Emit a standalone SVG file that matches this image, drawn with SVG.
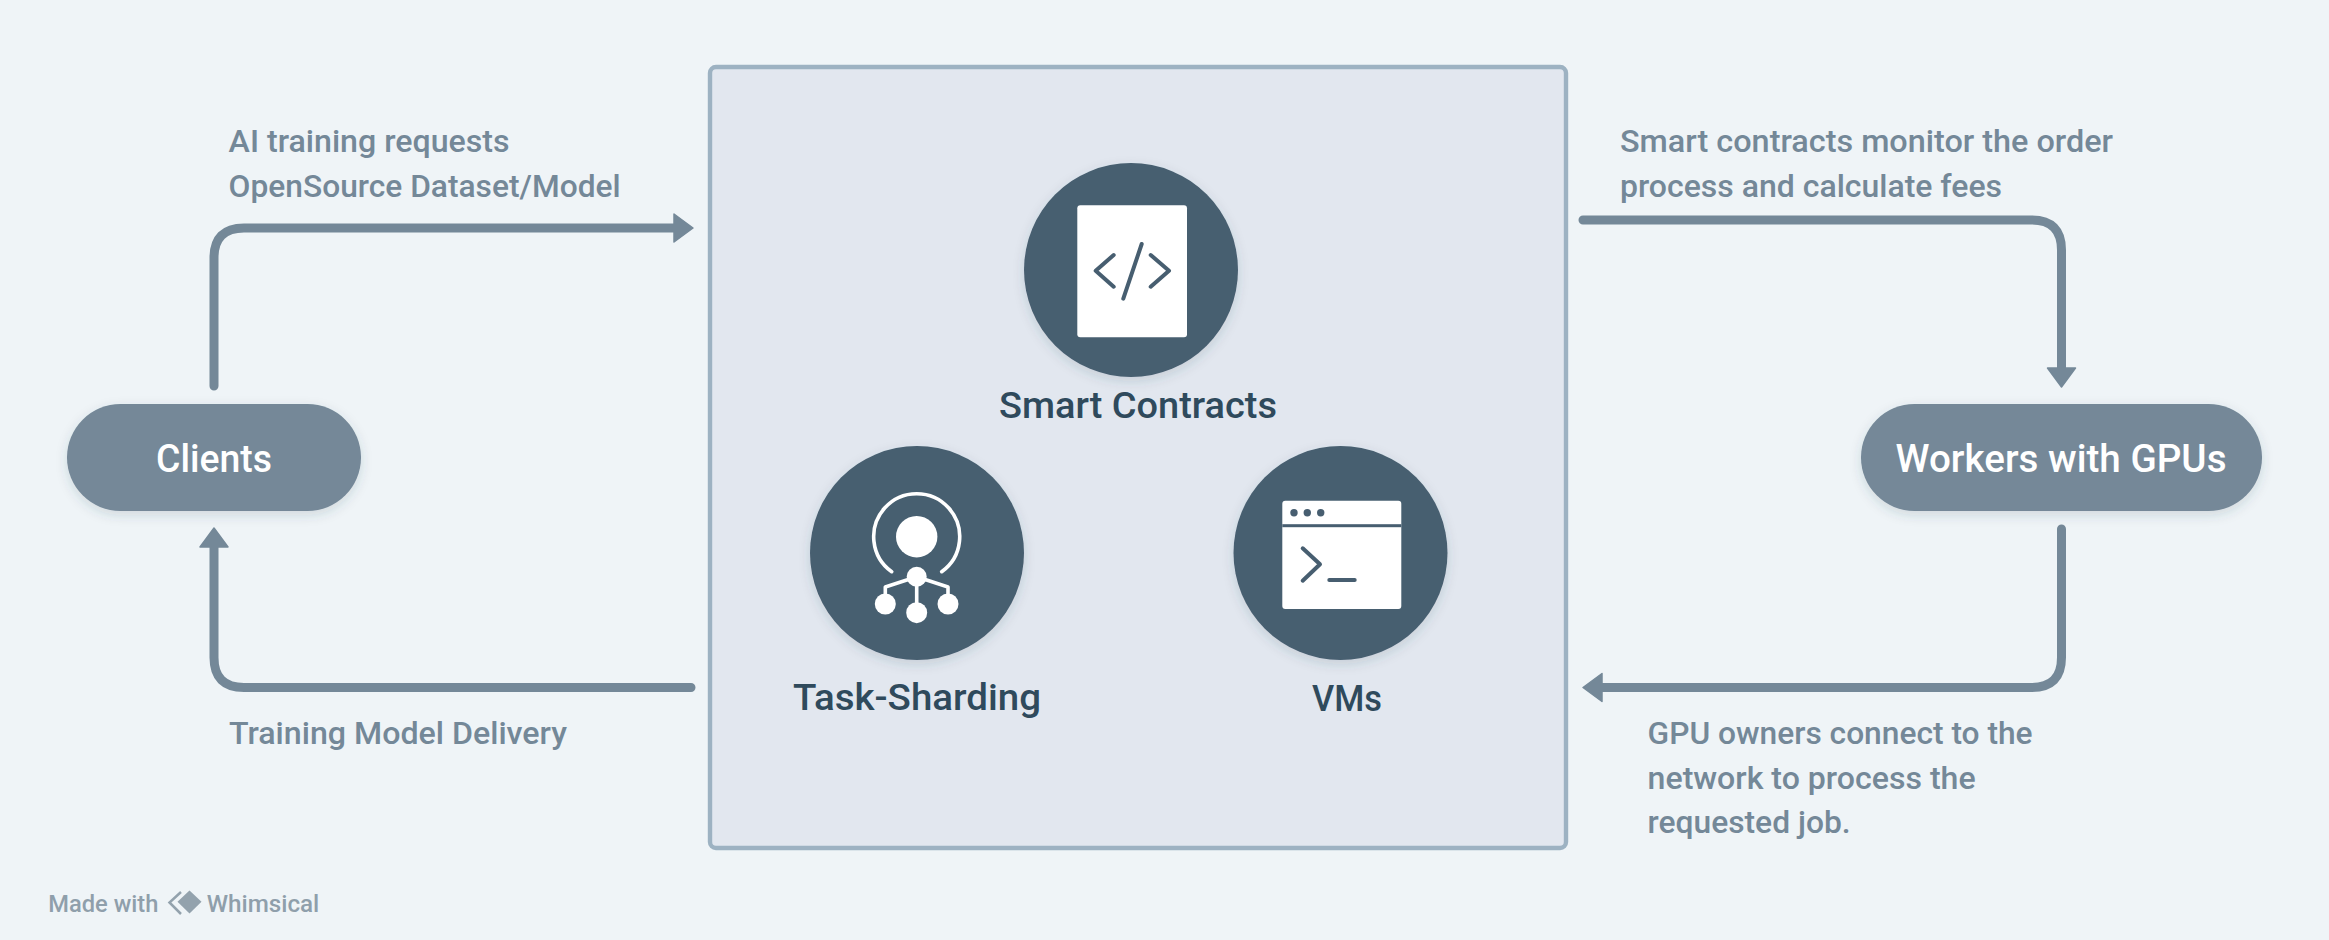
<svg xmlns="http://www.w3.org/2000/svg" width="2329" height="940" viewBox="0 0 2329 940">
<style>
text{font-family:"Roboto","Liberation Sans",sans-serif}
.lbl{font-size:31.5px;fill:#748898;font-weight:500}
.pilltxt{font-size:38px;fill:#fff;font-weight:500}
.captxt{font-size:37.5px;fill:#2f4a5c;font-weight:500}
.foot{font-size:24px;fill:#8f9fab;font-weight:500}
.pill{fill:#748898;filter:url(#sh)}
.disc{fill:#475e70;filter:url(#sh)}
.conn{fill:none;stroke:#748898;stroke-width:9;stroke-linecap:round;stroke-linejoin:round}
.ic{fill:none;stroke:#475e70;stroke-width:4;stroke-linecap:round;stroke-linejoin:round}
.icw{fill:none;stroke:#fff;stroke-width:3.600;stroke-linecap:round;stroke-linejoin:round}
</style>
<defs>
<filter id="sh" x="-20%" y="-20%" width="140%" height="150%"><feDropShadow dx="0" dy="4" stdDeviation="6" flood-color="#2f4a5c" flood-opacity="0.16"/></filter>
<marker id="ah" markerUnits="userSpaceOnUse" markerWidth="24" markerHeight="34" refX="1" refY="16" orient="auto"><path d="M1 2 L20 16 L1 30 Z" fill="#748898" stroke="#748898" stroke-width="1.5" stroke-linejoin="round"/></marker>
</defs>
<rect width="2329" height="940" fill="#eff4f7"/>
<g id="platform"><rect x="710" y="67" width="856" height="781" rx="6" fill="#e2e7ef" stroke="#9db2c2" stroke-width="4.400"/></g>
<g id="connectors">
<path class="conn" marker-end="url(#ah)" d="M214 386 V258 Q214 228 244 228 H674"/>
<path class="conn" marker-end="url(#ah)" d="M1583 220 H2031.500 Q2061.500 220 2061.500 250 V368"/>
<path class="conn" marker-end="url(#ah)" d="M2061.500 529 V657.500 Q2061.500 687.500 2031.500 687.500 H1602"/>
<path class="conn" marker-end="url(#ah)" d="M691 687.500 H244 Q214 687.500 214 657.500 V547"/>
</g>
<g id="clients"><rect class="pill" x="67" y="404" width="294" height="107" rx="53.500"/><text class="pilltxt" x="214" y="472" text-anchor="middle" textLength="116" lengthAdjust="spacingAndGlyphs">Clients</text></g>
<g id="workers"><rect class="pill" x="1861" y="404" width="401" height="107" rx="53.500"/><text class="pilltxt" x="2061" y="472" text-anchor="middle" textLength="331" lengthAdjust="spacingAndGlyphs">Workers with GPUs</text></g>
<g id="smart-contracts">
<circle class="disc" cx="1131" cy="270" r="107"/>
<rect x="1077.300" y="205.300" width="109.700" height="132" rx="3" fill="#fff"/>
<path class="ic" d="M1113.700 255 L1095.700 270.800 L1113.700 286.700 M1150.700 255 L1169 270.800 L1150.700 286.700 M1141.700 244 L1123.300 298.700"/>
<text class="captxt" x="999" y="418" textLength="278" lengthAdjust="spacingAndGlyphs">Smart Contracts</text>
</g>
<g id="task-sharding">
<circle class="disc" cx="917" cy="553" r="107"/>
<path class="icw" d="M891.700 571.700 A43 43 0 1 1 941.700 571.700"/>
<circle cx="916.700" cy="536.700" r="20.700" fill="#fff"/>
<path class="icw" d="M916.700 576.700 V612 M916.700 576.700 L885.300 587 V604 M916.700 576.700 L948 587 V604"/>
<circle cx="916.700" cy="576.700" r="10" fill="#fff"/>
<circle cx="885.300" cy="604" r="10.500" fill="#fff"/>
<circle cx="916.700" cy="612.700" r="10.500" fill="#fff"/>
<circle cx="948" cy="604" r="10.500" fill="#fff"/>
<text class="captxt" x="793" y="710" textLength="248" lengthAdjust="spacingAndGlyphs">Task-Sharding</text>
</g>
<g id="vms">
<circle class="disc" cx="1340.500" cy="553" r="107"/>
<rect x="1282.300" y="500.700" width="119" height="108.300" rx="3" fill="#fff"/>
<rect x="1282.300" y="524.200" width="119" height="3" fill="#475e70"/>
<circle cx="1294" cy="512.700" r="3.700" fill="#475e70"/><circle cx="1307.300" cy="512.700" r="3.700" fill="#475e70"/><circle cx="1320.700" cy="512.700" r="3.700" fill="#475e70"/>
<path class="ic" d="M1302.700 548.300 L1320 564.300 L1302.700 580.700 M1329.300 580 H1354.700"/>
<text class="captxt" x="1312" y="711" textLength="70" lengthAdjust="spacingAndGlyphs">VMs</text>
</g>
<g id="labels">
<text class="lbl" x="228.600" y="152" textLength="281" lengthAdjust="spacingAndGlyphs">AI training requests</text>
<text class="lbl" x="228.600" y="197" textLength="392" lengthAdjust="spacingAndGlyphs">OpenSource Dataset/Model</text>
<text class="lbl" x="1620" y="152" textLength="493" lengthAdjust="spacingAndGlyphs">Smart contracts monitor the order</text>
<text class="lbl" x="1620" y="197" textLength="382" lengthAdjust="spacingAndGlyphs">process and calculate fees</text>
<text class="lbl" x="229" y="744" textLength="338" lengthAdjust="spacingAndGlyphs">Training Model Delivery</text>
<text class="lbl" x="1647.600" y="744" textLength="385" lengthAdjust="spacingAndGlyphs">GPU owners connect to the</text>
<text class="lbl" x="1647.600" y="789" textLength="328" lengthAdjust="spacingAndGlyphs">network to process the</text>
<text class="lbl" x="1647.600" y="833" textLength="203" lengthAdjust="spacingAndGlyphs">requested job.</text>
</g>
<g id="footer">
<text class="foot" x="48.300" y="911.700" textLength="110" lengthAdjust="spacingAndGlyphs">Made with</text>
<path d="M181 892 L169.500 902.500 L181 914" fill="none" stroke="#93a2ad" stroke-width="2.500"/>
<path d="M189.500 890.500 L201.500 901.800 L189.500 913.500 L177.500 901.800 Z" fill="#93a2ad"/>
<text class="foot" x="206.700" y="911.700" textLength="112.600" lengthAdjust="spacingAndGlyphs">Whimsical</text>
</g>
</svg>
